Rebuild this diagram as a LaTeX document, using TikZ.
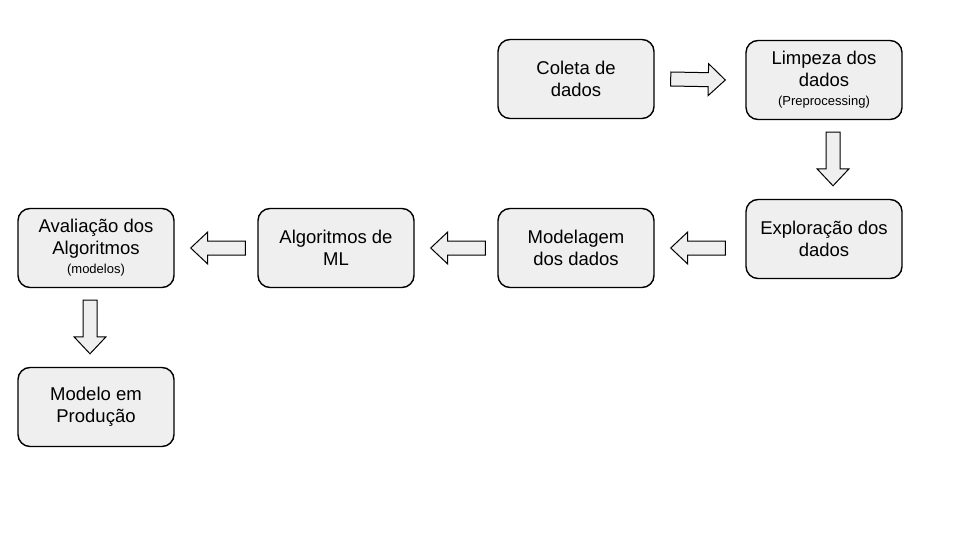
\documentclass[tikz,border=0pt]{standalone}
\usepackage{fontspec}
\setmainfont{Liberation Sans}
\usetikzlibrary{calc}
\definecolor{boxfill}{HTML}{EFEFEF}
\tikzset{
  stagebox/.style={draw=black, line width=1.4pt, fill=boxfill, rounded corners=12pt,
    minimum width=156pt, minimum height=79pt, align=center, inner sep=2pt,
    font=\fontsize{18.5}{22}\selectfont},
  arrowbody/.style={draw=black, line width=1pt, fill=boxfill, line join=miter}
}
\newcommand\smalltext[1]{{\fontsize{13}{15}\selectfont #1}}
\newcommand\blockarrow[2]{%
  \coordinate (hb) at ($(#2)!17pt!(#1)$);
  \draw[arrowbody] ($(#1)!7pt!90:(#2)$) -- ($(hb)!7pt!-90:(#1)$) -- ($(hb)!16pt!-90:(#1)$)
    -- (#2) -- ($(hb)!16pt!90:(#1)$) -- ($(hb)!7pt!90:(#1)$) -- ($(#1)!7pt!-90:(#2)$) -- cycle;
}
\begin{document}
\begin{tikzpicture}[x=1pt,y=-1pt]
\useasboundingbox (0,0) rectangle (960,540);
\node[stagebox] (coleta) at (576,79) {Coleta de\\dados};
\node[stagebox] (limpeza) at (824,80) {Limpeza dos\\dados\\[-3pt]\smalltext{(Preprocessing)}};
\node[stagebox] (explor) at (824,239) {Exploração dos\\dados};
\node[stagebox] (modelagem) at (576,248) {Modelagem\\dos dados};
\node[stagebox] (algml) at (336,248) {Algoritmos de\\ML};
\node[stagebox] (aval) at (96,248) {Avaliação dos\\Algoritmos\\[-3pt]\smalltext{(modelos)}};
\node[stagebox] (modelo) at (96,407) {Modelo em\\Produção};

\coordinate (a1s) at ($(coleta.east)+(16,0)$);
\coordinate (a1e) at ($(limpeza.west)+(-20,0)$);
\coordinate (a2s) at ($(limpeza.south)+(9,12)$);
\coordinate (a2e) at ($(explor.north)+(9,-13)$);
\coordinate (a3s) at ($(explor.west |- modelagem.east)+(-20,0)$);
\coordinate (a3e) at ($(modelagem.east)+(16,0)$);
\coordinate (a4s) at ($(modelagem.west)+(-12,0)$);
\coordinate (a4e) at ($(algml.east)+(16,0)$);
\coordinate (a5s) at ($(algml.west)+(-12,0)$);
\coordinate (a5e) at ($(aval.east)+(16,0)$);
\coordinate (a6s) at ($(aval.south)+(-6,12)$);
\coordinate (a6e) at ($(modelo.north)+(-6,-13)$);

\blockarrow{a1s}{a1e}
\blockarrow{a2s}{a2e}
\blockarrow{a3s}{a3e}
\blockarrow{a4s}{a4e}
\blockarrow{a5s}{a5e}
\blockarrow{a6s}{a6e}
\end{tikzpicture}
\end{document}
